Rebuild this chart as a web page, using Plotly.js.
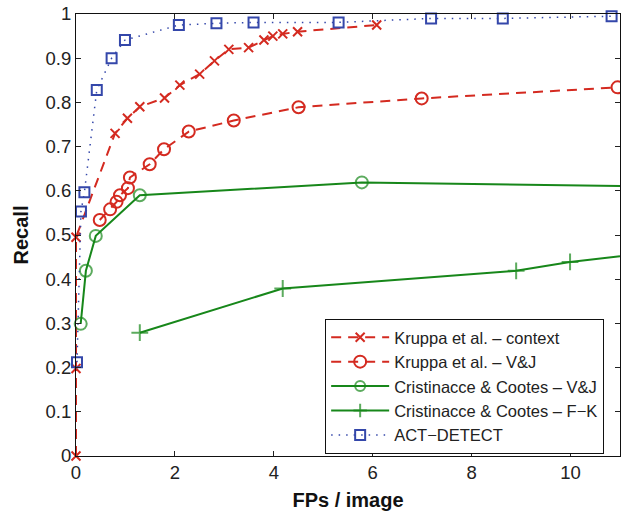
<!DOCTYPE html>
<html>
<head>
<meta charset="utf-8">
<script src="https://cdn.plot.ly/plotly-3.0.1.min.js"></script>
<style>html,body{margin:0;padding:0;background:#fff;}#chart{width:621px;height:515px;}</style>
</head>
<body>
<div id="chart"></div>
<script>
// Kruppa et al. – context
const kcX = [0, 0, 0, 0.79, 1.04, 1.29, 1.79, 2.10, 2.50, 2.80, 3.09, 3.49, 3.80, 3.98, 4.18, 4.48, 6.08];
const kcY = [0, 0.198, 0.495, 0.730, 0.764, 0.790, 0.810, 0.839, 0.864, 0.894, 0.920, 0.924, 0.941, 0.950, 0.955, 0.960, 0.975];
// Kruppa et al. – V&J
const kvX = [0.48, 0.69, 0.82, 0.89, 1.05, 1.09, 1.49, 1.78, 2.28, 3.19, 4.50, 6.99, 10.95];
const kvY = [0.534, 0.558, 0.575, 0.590, 0.606, 0.630, 0.660, 0.694, 0.734, 0.759, 0.789, 0.809, 0.834];
// Cristinacce & Cootes – V&J
const cvX = [0.095, 0.20, 0.40, 1.29, 5.78, 11.0];
const cvY = [0.299, 0.419, 0.498, 0.590, 0.619, 0.611];
// Cristinacce & Cootes – F−K
const cfX = [1.29, 4.18, 8.90, 9.99, 11.0];
const cfY = [0.279, 0.379, 0.419, 0.439, 0.452];
// ACT−DETECT
const adX = [0.02, 0.10, 0.17, 0.42, 0.72, 0.99, 2.08, 2.84, 3.59, 5.31, 7.18, 8.63, 10.83];
const adY = [0.212, 0.553, 0.597, 0.828, 0.900, 0.941, 0.975, 0.979, 0.981, 0.981, 0.990, 0.990, 0.995];

const seriesNames = ['Kruppa et al. – context', 'Kruppa et al. – V&J', 'Cristinacce & Cootes – V&J', 'Cristinacce & Cootes – F−K', 'ACT−DETECT'];
const xTicks = [0, 2, 4, 6, 8, 10];
const yTicks = [0, 0.1, 0.2, 0.3, 0.4, 0.5, 0.6, 0.7, 0.8, 0.9, 1];
const yTickText = ['0', '0.1', '0.2', '0.3', '0.4', '0.5', '0.6', '0.7', '0.8', '0.9', '1'];

const RED = '#d42a20', GREEN = '#17871a', BLUE = '#3447aa';

const sizesEndHidden = (arr, s) => arr.map((_, i) => i === arr.length - 1 ? 0 : s);

const traces = [
  {x: kcX, y: kcY, name: seriesNames[0], mode: 'lines+markers', cliponaxis: false,
   line: {color: RED, width: 2, dash: '10px,7px'},
   marker: {symbol: 'x-thin-open', size: 9, color: RED, line: {color: RED, width: 2}}},
  {x: kvX, y: kvY, name: seriesNames[1], mode: 'lines+markers', cliponaxis: false,
   line: {color: RED, width: 2, dash: '10px,7px'},
   marker: {symbol: 'circle-open', size: 12, color: RED, line: {color: RED, width: 2}}},
  {x: cvX, y: cvY, name: seriesNames[2], mode: 'lines+markers', cliponaxis: false,
   line: {color: GREEN, width: 2},
   marker: {symbol: 'circle-open', size: sizesEndHidden(cvX, 12), color: GREEN, line: {color: GREEN, width: 2}}},
  {x: cfX, y: cfY, name: seriesNames[3], mode: 'lines+markers', cliponaxis: false,
   line: {color: GREEN, width: 2},
   marker: {symbol: 'cross-thin-open', size: sizesEndHidden(cfX, 12), color: GREEN, line: {color: GREEN, width: 2}}},
  {x: adX, y: adY, name: seriesNames[4], mode: 'lines+markers', cliponaxis: false,
   line: {color: BLUE, width: 1.5, dash: '1.5px,6px'},
   marker: {symbol: 'square-open', size: 10, color: BLUE, line: {color: BLUE, width: 2}}}
];

const FONT = 'Liberation Sans, Arial, Helvetica, sans-serif';
const layout = {
  width: 621, height: 515,
  margin: {l: 76, r: 1, t: 14, b: 59, pad: 0, autoexpand: false},
  paper_bgcolor: '#fff', plot_bgcolor: '#fff',
  font: {family: FONT, color: '#222', size: 16.5},
  showlegend: true,
  xaxis: {
    range: [0, 11], tickvals: xTicks, ticktext: xTicks.map(String),
    ticks: 'inside', ticklen: 5, tickwidth: 1, tickcolor: '#222',
    showline: true, linecolor: '#111', linewidth: 1, mirror: 'ticks',
    showgrid: false, zeroline: false,
    tickfont: {size: 18.5, family: FONT, color: '#222'},
    title: {text: 'FPs / image', font: {size: 20, family: FONT, color: '#111', weight: 'bold'}, standoff: 10}
  },
  yaxis: {
    range: [0, 1], tickvals: yTicks, ticktext: yTickText,
    ticks: 'inside', ticklen: 5, tickwidth: 1, tickcolor: '#222',
    showline: true, linecolor: '#111', linewidth: 1, mirror: 'ticks',
    showgrid: false, zeroline: false,
    tickfont: {size: 18.5, family: FONT, color: '#222'},
    title: {text: 'Recall', font: {size: 20, family: FONT, color: '#111', weight: 'bold'}, standoff: 11}
  },
  legend: {
    x: 0.458, y: 0.31, xanchor: 'left', yanchor: 'top',
    bgcolor: '#fff', bordercolor: '#111', borderwidth: 1,
    font: {size: 16.5, family: FONT, color: '#222'},
    itemwidth: 58, tracegroupgap: 0
  }
};

Plotly.newPlot('chart', traces, layout, {displayModeBar: false, staticPlot: true});
</script>
</body>
</html>
